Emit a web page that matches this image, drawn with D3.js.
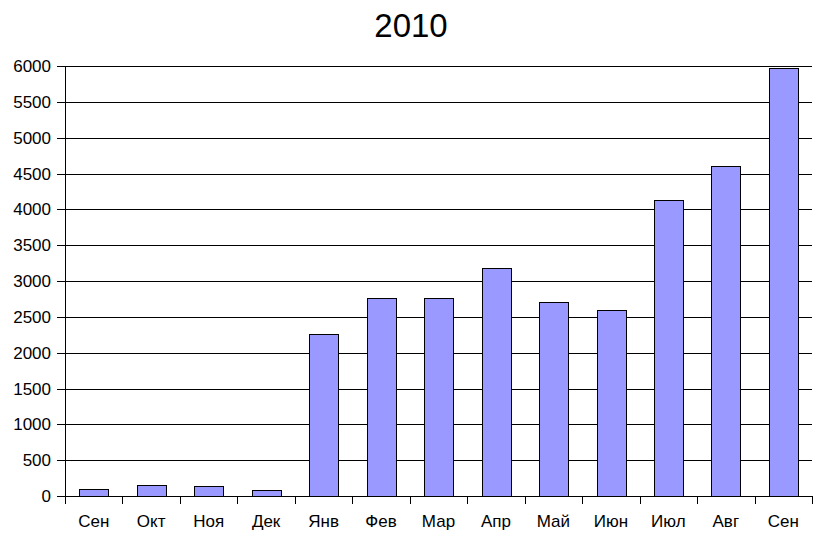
<!DOCTYPE html>
<html><head><meta charset="utf-8">
<script src="https://cdn.jsdelivr.net/npm/d3@7"></script>
<style>body{margin:0;background:#fff}svg{display:block}</style>
</head><body>
<script>
const categories = ["Сен","Окт","Ноя","Дек","Янв","Фев","Мар","Апр","Май","Июн","Июл","Авг","Сен"];
const values = [95,155,135,78,2260,2760,2760,3180,2705,2590,4125,4605,5970];
const yTicks = [0,500,1000,1500,2000,2500,3000,3500,4000,4500,5000,5500,6000];
const title = "2010";

(function(){
const W=816,H=534, mL=65, mR=812, mT=66, mB=496;
const svg=d3.select("body").append("svg").attr("width",W).attr("height",H);
const x=d3.scaleBand().domain(d3.range(categories.length)).range([mL,mR]).paddingInner(0.5).paddingOuter(0.25);
const xb=d3.scaleBand().domain(d3.range(categories.length)).range([mL,mR]);
const y=d3.scaleLinear().domain([0,6000]).range([mB,mT]);

svg.append("text").attr("x",411).attr("y",37).attr("text-anchor","middle")
  .attr("font-family","Liberation Sans, Arial, sans-serif").attr("font-size",33).text(title);

svg.append("g").selectAll("line").data(yTicks).join("line")
  .attr("x1",mL-8).attr("x2",mR).attr("y1",d=>Math.round(y(d))+0.5).attr("y2",d=>Math.round(y(d))+0.5)
  .attr("stroke","#000").attr("stroke-width",1);
svg.append("g").selectAll("text").data(yTicks).join("text")
  .attr("x",51).attr("y",d=>y(d)).attr("dy","0.36em").attr("text-anchor","end")
  .attr("font-family","Liberation Sans, Arial, sans-serif").attr("font-size",17).text(d=>d);

svg.append("g").selectAll("rect").data(values).join("rect")
  .attr("x",(d,i)=>Math.round(x(i))+0.5).attr("width",Math.round(x.bandwidth()))
  .attr("y",d=>Math.round(y(d))+0.5).attr("height",d=>Math.round(mB-y(d)))
  .attr("fill","#9999ff").attr("stroke","#000").attr("stroke-width",1);

svg.append("line").attr("x1",mL+0.5).attr("x2",mL+0.5).attr("y1",mT).attr("y2",mB+8).attr("stroke","#000");
svg.append("g").selectAll("line").data(d3.range(categories.length+1)).join("line")
  .attr("x1",i=>Math.round(i<categories.length?xb(i):mR)+0.5).attr("x2",i=>Math.round(i<categories.length?xb(i):mR)+0.5)
  .attr("y1",mB).attr("y2",mB+8).attr("stroke","#000");
svg.append("g").selectAll("text").data(categories).join("text")
  .attr("x",(d,i)=>xb(i)+xb.bandwidth()/2).attr("y",527).attr("text-anchor","middle")
  .attr("font-family","Liberation Sans, Arial, sans-serif").attr("font-size",17).text(d=>d);
})();
</script>
</body></html>
